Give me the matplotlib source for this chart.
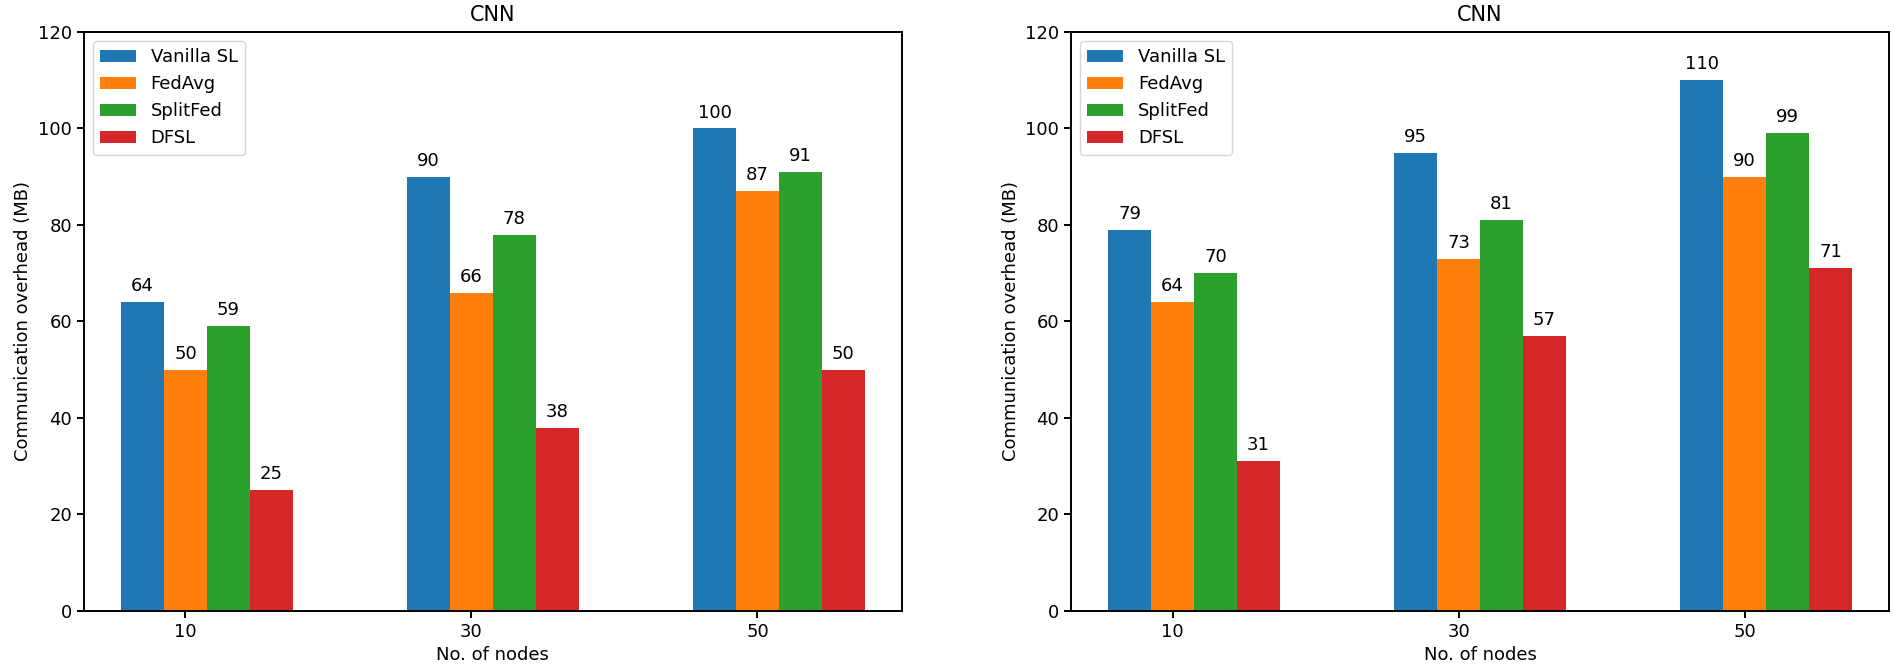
import numpy as np
import matplotlib
matplotlib.use("Agg")
import matplotlib.pyplot as plt

nodes = ["10", "30", "50"]
methods = ["Vanilla SL", "FedAvg", "SplitFed", "DFSL"]
colors = ["#1f77b4", "#ff7f0e", "#2ca02c", "#d62728"]

# left panel
left_vals = {
    "Vanilla SL": [64, 90, 100],
    "FedAvg": [50, 66, 87],
    "SplitFed": [59, 78, 91],
    "DFSL": [25, 38, 50],
}
# right panel
right_vals = {
    "Vanilla SL": [79, 95, 110],
    "FedAvg": [64, 73, 90],
    "SplitFed": [70, 81, 99],
    "DFSL": [31, 57, 71],
}

plt.rcParams["font.size"] = 13
plt.rcParams["axes.linewidth"] = 1.4

fig = plt.figure(figsize=(18.94, 6.72), dpi=100)
ax1 = fig.add_axes([0.0443, 0.0908, 0.4319, 0.8616])
ax2 = fig.add_axes([0.5655, 0.0908, 0.4319, 0.8616])

x = np.arange(len(nodes))
w = 0.15

for ax, vals in [(ax1, left_vals), (ax2, right_vals)]:
    for i, m in enumerate(methods):
        bars = ax.bar(x + (i - 1) * w, vals[m], w, label=m, color=colors[i])
        ax.bar_label(bars, padding=5, fontsize=13)
    ax.set_xticks(x)
    ax.set_xticklabels(nodes)
    ax.set_ylim(0, 120)
    ax.set_title("CNN", fontsize=15, pad=8)
    ax.set_xlabel("No. of nodes", fontsize=13)
    ax.set_ylabel("Communication overhead (MB)", fontsize=13)
    ax.tick_params(width=1.4, length=5, labelsize=13)
    ax.legend(loc="upper left", fontsize=13)

fig.savefig("out.png", dpi=100)
